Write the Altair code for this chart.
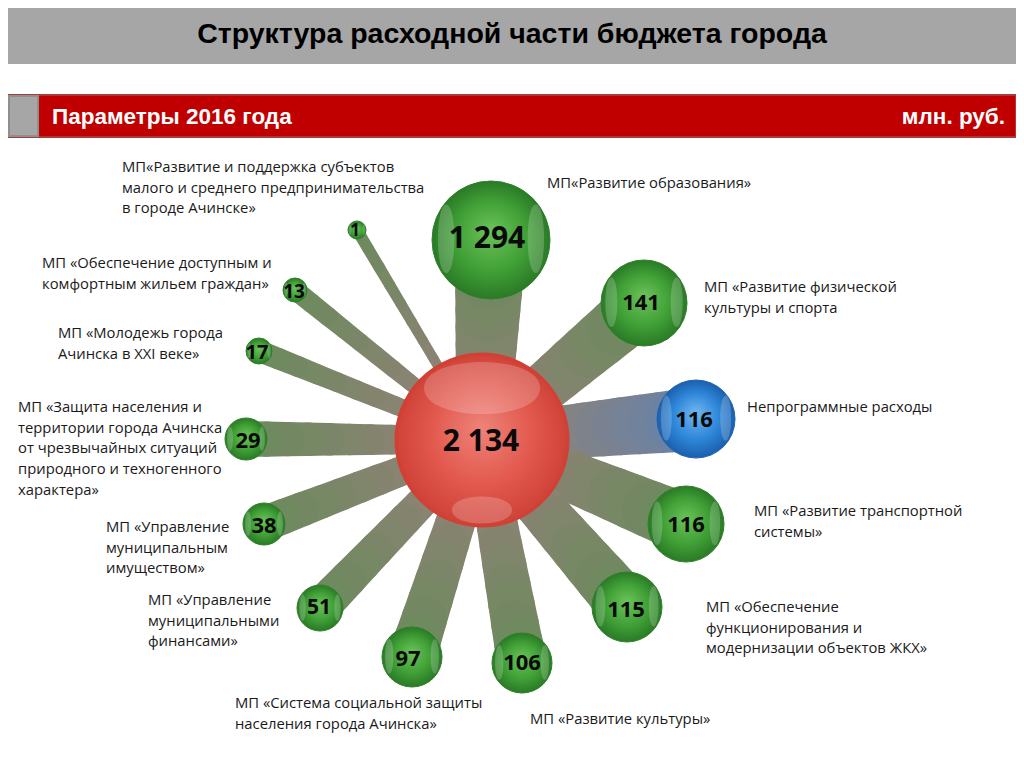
import altair as alt
import pandas as pd

# ---------------- data ----------------
TITLE = "Структура расходной части бюджета города"
SUBTITLE = "Параметры 2016 года"
UNIT = "млн. руб."
TOTAL = 2134

values = [1294, 141, 116, 116, 115, 106, 97, 51, 38, 29, 17, 13, 1]
kinds = ["green", "green", "blue", "green", "green", "green", "green",
         "green", "green", "green", "green", "green", "green"]
label_lines = [
    ["МП«Развитие образования»"],
    ["МП «Развитие физической", "культуры и спорта"],
    ["Непрограммные расходы"],
    ["МП «Развитие транспортной", "системы»"],
    ["МП «Обеспечение", "функционирования и", "модернизации объектов ЖКХ»"],
    ["МП «Развитие культуры»"],
    ["МП «Система социальной защиты", "населения города Ачинска»"],
    ["МП «Управление", "муниципальными", "финансами»"],
    ["МП «Управление", "муниципальным", "имуществом»"],
    ["МП «Защита населения и", "территории города Ачинска", "от чрезвычайных ситуаций",
     "природного и техногенного", "характера»"],
    ["МП «Молодежь города", "Ачинска в XXI веке»"],
    ["МП «Обеспечение доступным и", "комфортным жильем граждан»"],
    ["МП«Развитие и поддержка субъектов", "малого и среднего предпринимательства",
     "в городе Ачинске»"],
]

# ---------------- layout (pixel positions of the infographic) ----------------
center_x, center_y, center_r = 482, 440, 86
bubble_x = [491, 644, 696, 686, 627, 522, 412, 320, 264, 246, 259, 295, 357]
bubble_y = [240, 303, 419, 524, 607, 663, 657, 608, 524, 439, 351, 290, 230]
bubble_r = [59, 43, 39, 38, 35, 30, 30, 23, 21, 21, 13, 12, 9]
ray_w = [72, 60, 64, 60, 56, 50, 48, 38, 36, 36, 22, 20, 12]
num_x = [487, 641, 694, 686, 626, 522, 408, 319, 264, 248, 257, 294, 355]
num_y = [239, 303, 420, 525, 610, 663, 659, 608, 526, 441, 353, 292, 231]
num_size = [30, 22, 22, 22, 22, 22, 22, 21, 22, 22, 20, 19, 17]
label_x = [547, 704, 747, 754, 706, 530, 235, 148, 106, 18, 58, 42, 122]
label_y = [184, 288, 408, 512, 608, 720, 704, 601, 528, 408, 334, 264, 168]
LINE_H = 20.7

W, H = 1008, 752
X0, Y0 = 8, 8
xs = alt.Scale(domain=[X0, X0 + W], nice=False, zero=False)
ys = alt.Scale(domain=[Y0, Y0 + H], nice=False, zero=False, reverse=True)


def XE(f="x"):
    return alt.X(f"{f}:Q", scale=xs, axis=None)


def YE(f="y"):
    return alt.Y(f"{f}:Q", scale=ys, axis=None)


def fmt(v):
    return f"{v:,}".replace(",", " ")


def mix(c1, c2, t):
    a = [int(c1[i:i + 2], 16) for i in (1, 3, 5)]
    b = [int(c2[i:i + 2], 16) for i in (1, 3, 5)]
    return "#" + "".join(f"{round(a[k] + (b[k] - a[k]) * t):02x}" for k in range(3))


# ---------------- header rectangles ----------------
rects = pd.DataFrame([
    dict(x=X0, x2=X0 + W, y=Y0, y2=63, fill="#a6a6a6", stroke="#a6a6a6"),
    dict(x=X0, x2=X0 + W, y=95, y2=137, fill="#c00000", stroke="#a83a3a"),
    dict(x=X0 + 1, x2=38, y=96, y2=136, fill="#a6a6a6", stroke="#8f8f8f"),
])
rect_layer = alt.Chart(rects).mark_rect(strokeWidth=2).encode(
    x=XE("x"), x2="x2:Q", y=YE("y"), y2="y2:Q",
    fill=alt.Fill("fill:N", scale=None), stroke=alt.Stroke("stroke:N", scale=None))

# ---------------- rays ----------------
ray_rows = []
K = 8
ts = [0.0] + [0.3 + 0.7 * j / K for j in range(K + 1)]
for i in range(len(values)):
    end_col = "#6d8a5d" if kinds[i] == "green" else "#6a82a6"
    start_col = "#8e8276"
    for j in range(len(ts) - 1):
        for k, t in enumerate((ts[j], ts[j + 1])):
            tm = (ts[j] + ts[j + 1]) / 2
            ray_rows.append(dict(
                x=center_x + (bubble_x[i] - center_x) * t,
                y=center_y + (bubble_y[i] - center_y) * t,
                w=ray_w[i] * (0.72 + 0.28 * t),
                col=mix(start_col, end_col, max(0.0, (tm - 0.3) / 0.7)),
                seg=f"{i}_{j}", ord=k))
rays = pd.DataFrame(ray_rows)
ray_layer = alt.Chart(rays).mark_trail().encode(
    x=XE("x"), y=YE("y"), size=alt.Size("w:Q", scale=None, legend=None),
    color=alt.Color("col:N", scale=None), detail="seg:N", order="ord:Q")

# ---------------- bubbles ----------------
def radial(c0, c1, c2):
    return {"gradient": "radial", "x1": 0.5, "y1": 0.42, "r1": 0.0,
            "x2": 0.5, "y2": 0.5, "r2": 0.5,
            "stops": [{"offset": 0.0, "color": c0}, {"offset": 0.6, "color": c1},
                      {"offset": 1.0, "color": c2}]}


bub = pd.DataFrame(dict(x=bubble_x, y=bubble_y, s=[4 * r * r for r in bubble_r], kind=kinds))
green_layer = alt.Chart(bub[bub.kind == "green"]).mark_point(
    shape="circle", filled=True, opacity=1,
    fill=radial("#6cc25b", "#40a036", "#2a7a26"), stroke="#2f7f2a", strokeWidth=1
).encode(x=XE("x"), y=YE("y"), size=alt.Size("s:Q", scale=None, legend=None))
blue_layer = alt.Chart(bub[bub.kind == "blue"]).mark_point(
    shape="circle", filled=True, opacity=1,
    fill=radial("#72b6f0", "#2d86d8", "#1b5fae"), stroke="#1e64b0", strokeWidth=1
).encode(x=XE("x"), y=YE("y"), size=alt.Size("s:Q", scale=None, legend=None))

main = pd.DataFrame(dict(x=[center_x], y=[center_y], s=[4 * center_r * center_r]))
main_layer = alt.Chart(main).mark_point(
    shape="circle", filled=True, opacity=1,
    fill=radial("#ee8379", "#e2584d", "#cf4237"), stroke="#d23f34", strokeWidth=3
).encode(x=XE("x"), y=YE("y"), size=alt.Size("s:Q", scale=None, legend=None))

# glossy highlights
VERT = "M 0 -1 C 0.32 -1 0.32 1 0 1 C -0.32 1 -0.32 -1 0 -1 Z"
HORZ = "M -1 0 C -1 -0.6 1 -0.6 1 0 C 1 0.6 -1 0.6 -1 0 Z"
hl = []
for i in range(len(values)):
    r = bubble_r[i]
    for sgn in (-1, 1):
        hl.append(dict(x=bubble_x[i] + sgn * 0.76 * r, y=bubble_y[i] - 0.02 * r,
                       s=4 * (0.58 * r) ** 2))
hl_layer = alt.Chart(pd.DataFrame(hl)).mark_point(
    shape=VERT, filled=True, color="white", opacity=0.2, strokeWidth=0
).encode(x=XE("x"), y=YE("y"), size=alt.Size("s:Q", scale=None, legend=None))
mhl = pd.DataFrame(dict(x=[center_x, center_x], y=[center_y - 52, center_y + 70],
                        s=[4 * 58 ** 2, 4 * 30 ** 2]))
mhl_layer = alt.Chart(mhl).mark_point(
    shape=HORZ, filled=True, color="white", opacity=0.2, strokeWidth=0
).encode(x=XE("x"), y=YE("y"), size=alt.Size("s:Q", scale=None, legend=None))

# ---------------- texts ----------------
nums = pd.DataFrame(dict(x=num_x + [center_x - 1], y=num_y + [center_y + 2],
                         t=[fmt(v) for v in values] + [fmt(TOTAL)],
                         fs=num_size + [30]))
num_layer = alt.Chart(nums).mark_text(
    font="Open Sans", fontWeight="bold", color="#0a0a0a", baseline="middle", align="center"
).encode(x=XE("x"), y=YE("y"), text="t:N", size=alt.Size("fs:Q", scale=None, legend=None))

lab_rows = []
for i, lines in enumerate(label_lines):
    for k, ln in enumerate(lines):
        lab_rows.append(dict(x=label_x[i], y=label_y[i] + k * LINE_H, t=ln))
lab_layer = alt.Chart(pd.DataFrame(lab_rows)).mark_text(
    font="Open Sans", fontSize=14.8, color="#1a1a1a", baseline="middle", align="left"
).encode(x=XE("x"), y=YE("y"), text="t:N")

head_title = alt.Chart(pd.DataFrame(dict(x=[512], y=[34], t=[TITLE]))).mark_text(
    font="Liberation Sans", fontWeight="bold", fontSize=28.5, color="#000000",
    align="center", baseline="middle"
).encode(x=XE("x"), y=YE("y"), text="t:N")
head_sub = alt.Chart(pd.DataFrame(dict(x=[52], y=[117], t=[SUBTITLE]))).mark_text(
    font="Liberation Sans", fontWeight="bold", fontSize=22.5, color="#ffffff",
    align="left", baseline="middle"
).encode(x=XE("x"), y=YE("y"), text="t:N")
unit_layer = alt.Chart(pd.DataFrame(dict(x=[1005], y=[117], t=[UNIT]))).mark_text(
    font="Liberation Sans", fontWeight="bold", fontSize=22.5, color="#ffffff",
    align="right", baseline="middle"
).encode(x=XE("x"), y=YE("y"), text="t:N")

chart = alt.layer(
    rect_layer, ray_layer, main_layer, green_layer, blue_layer, hl_layer, mhl_layer,
    num_layer, lab_layer, head_title, head_sub, unit_layer
).properties(
    width=W, height=H, padding=0, autosize=alt.AutoSizeParams(type="none"),
    background="white"
).configure_view(stroke=None)

chart.save("out.html", embed_options={"renderer": "svg", "actions": False})
